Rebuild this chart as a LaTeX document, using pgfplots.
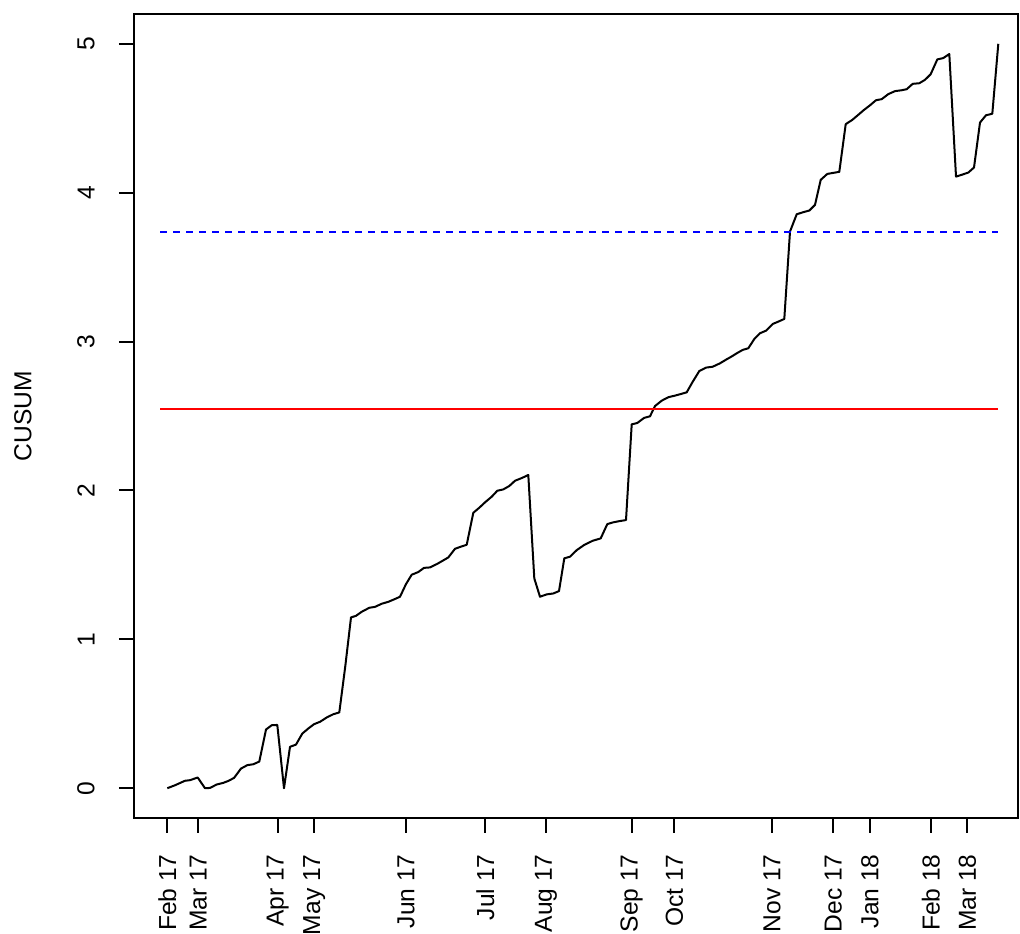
\documentclass[border=0pt]{standalone}
\usepackage{fontspec}
\setmainfont{Liberation Sans}
\usepackage{pgfplots}
\pgfplotsset{compat=1.18}

% x is the position along the run (one unit = one pixel of the reference)
\pgfplotstableread{
x y
167.3 0
175 0.02
185 0.05
190 0.054
197.7 0.072
205 0
210 0.002
216.7 0.025
223.3 0.036
228.3 0.049
234 0.069
241 0.132
247.3 0.155
253.3 0.161
259.3 0.179
266 0.394
271.7 0.423
277.3 0.425
284 0
290 0.278
296 0.293
302.3 0.367
308.3 0.401
314 0.43
320 0.446
326.7 0.475
333.3 0.497
339.3 0.509
345.3 0.82
351 1.147
356 1.158
361.7 1.185
369.3 1.212
375 1.218
381.7 1.239
388.3 1.252
394 1.268
400 1.286
406 1.371
411.7 1.434
418.3 1.452
424 1.48
430 1.483
436.7 1.505
442.7 1.528
448.3 1.55
455 1.608
460.7 1.622
466.7 1.635
473.3 1.85
479.3 1.884
485 1.92
491.7 1.958
497.3 1.998
503.3 2.007
509.3 2.03
515 2.065
521.7 2.083
528.3 2.104
534.3 1.409
540 1.286
546.7 1.302
553.3 1.308
559 1.324
564.3 1.544
570 1.555
576.7 1.599
584 1.633
592.7 1.662
600.7 1.678
607.3 1.774
613.3 1.786
619.5 1.794
626 1.801
631.7 2.444
637.3 2.453
644 2.487
650 2.498
655 2.567
661.7 2.603
668.3 2.626
675 2.637
681 2.648
686.7 2.659
692.7 2.73
699.3 2.802
706 2.825
712.7 2.831
720 2.854
726.7 2.881
731.7 2.90
736.7 2.921
742.7 2.944
748.3 2.955
754.3 3.017
760 3.056
766 3.073
772.7 3.118
778.3 3.134
784.3 3.152
790 3.739
796.7 3.855
803.3 3.869
809.3 3.88
815 3.918
820.7 4.086
827.3 4.126
833.3 4.133
839.3 4.14
845.7 4.46
852.3 4.489
858.3 4.523
864 4.556
869.3 4.583
876 4.621
881.7 4.628
888.3 4.662
895 4.682
901.7 4.688
906.7 4.695
912.7 4.731
919.3 4.735
925 4.758
930.7 4.796
937.3 4.895
943.3 4.904
949.3 4.931
956 4.108
961.7 4.12
968.3 4.135
974 4.169
980 4.471
986 4.52
992.3 4.53
998.3 5.0
}\cusum

\newcommand{\lbl}{\fontsize{12.3bp}{14bp}\selectfont}

\begin{document}
\begin{tikzpicture}
\begin{axis}[
    at={(67bp,58bp)}, anchor=south west,
    scale only axis,
    width=442bp, height=402bp,
    xmin=134, xmax=1018,
    ymin=-0.2, ymax=5.2,
    axis line style={line width=1bp},
    tick style={line width=1bp, black},
    tick align=outside,
    major tick length=7.5bp,
    xtick pos=bottom, ytick pos=left,
    xtick={167.3,198.3,277.7,314.3,406,485.3,546,631.7,674.3,772,833.3,870,930.7,967.3},
    xticklabels={Feb 17,Mar 17,Apr 17,May 17,Jun 17,Jul 17,Aug 17,Sep 17,Oct 17,Nov 17,Dec 17,Jan 18,Feb 18,Mar 18},
    ytick={0,1,2,3,4,5},
    yticklabels={0,1,2,3,4,5},
    xticklabel style={font=\lbl, rotate=90, anchor=east, inner sep=0pt},
    yticklabel style={font=\lbl, rotate=90, anchor=south, inner sep=0pt},
    xticklabel shift=10.5bp,
    yticklabel shift=12bp,
    ylabel={CUSUM},
    every axis y label/.style={at={(axis description cs:0,0.5)}, rotate=90,
        anchor=south, inner sep=0pt, yshift=51bp, font=\lbl},
    clip=false,
]
\addplot[black, line width=1bp, line join=round] table[x=x, y=y] {\cusum};
\addplot[red, line width=1bp] coordinates {(160,2.547) (998.3,2.547)};
\addplot[blue, line width=1bp, dash pattern=on 3.5bp off 3bp] coordinates {(160,3.737) (998.3,3.737)};
\end{axis}
\pgfresetboundingbox
\useasboundingbox (0,0) rectangle (510bp,467bp);
\end{tikzpicture}
\end{document}
